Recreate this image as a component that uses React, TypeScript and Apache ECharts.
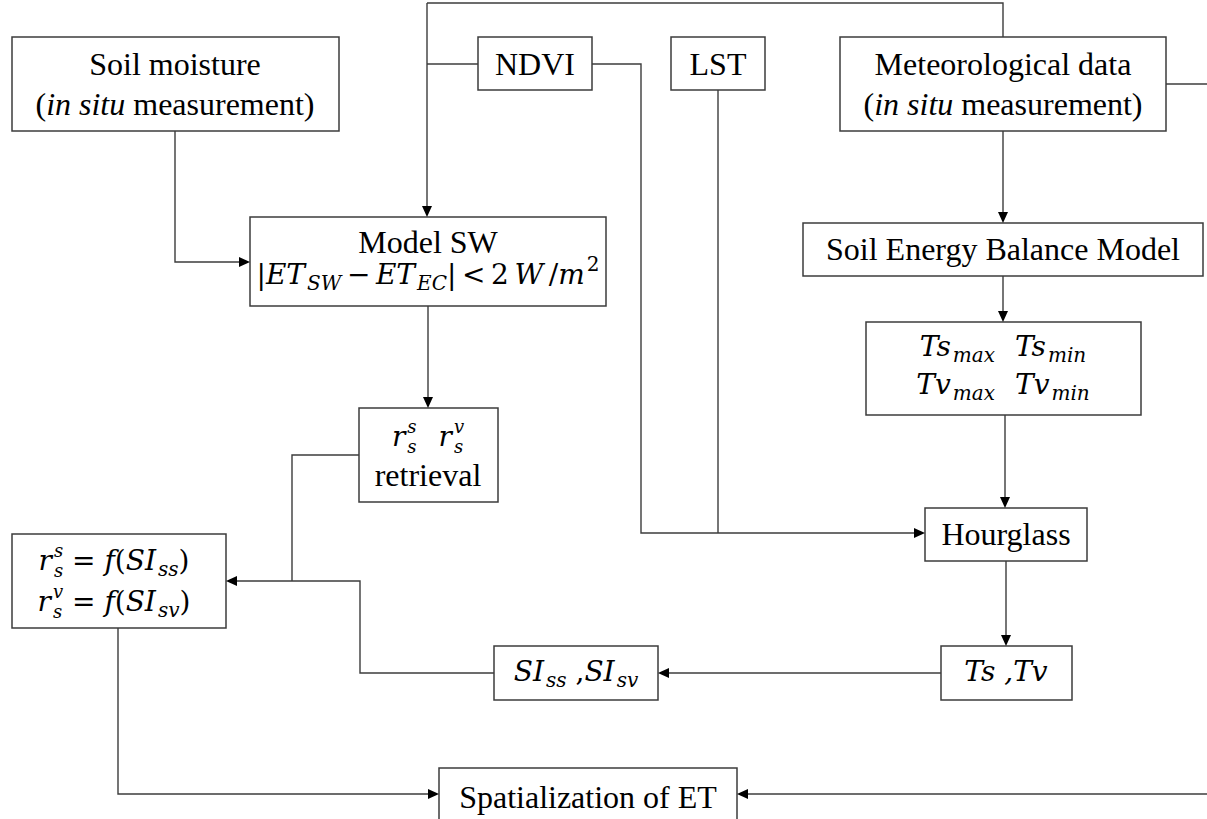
import React, { useEffect, useRef } from "react";
import * as echarts from "echarts";

const W = 1207;
const H = 819;

// ---- texts (data) ----
type Seg = { t: string; f?: "t" | "m"; it?: boolean; sub?: string; sup?: string; gap?: number };

const soilLines: Seg[][] = [
  [{ t: "Soil moisture" }],
  [{ t: "(" }, { t: "in situ", it: true }, { t: " measurement)" }],
];
const metLines: Seg[][] = [
  [{ t: "Meteorological data" }],
  [{ t: "(" }, { t: "in situ", it: true }, { t: " measurement)" }],
];
const ndviLines: Seg[][] = [[{ t: "NDVI" }]];
const lstLines: Seg[][] = [[{ t: "LST" }]];
const modelLines: Seg[][] = [
  [{ t: "Model SW" }],
  [
    { t: "|", f: "m" },
    { t: "ET", f: "m", it: true, sub: "SW" },
    { t: "\u2009−\u2009", f: "m" },
    { t: "ET", f: "m", it: true, sub: "EC" },
    { t: "|\u2009<\u20092\u2009", f: "m" },
    { t: "W", f: "m", it: true },
    { t: "\u2009/", f: "m" },
    { t: "m", f: "m", it: true, sup: "2" },
  ],
];
const sebmLines: Seg[][] = [[{ t: "Soil Energy Balance Model" }]];
const tsLimLines: Seg[][] = [
  [{ t: "Ts", f: "m", it: true, sub: "max" }, { t: "", gap: 20 }, { t: "Ts", f: "m", it: true, sub: "min" }],
  [{ t: "Tv", f: "m", it: true, sub: "max" }, { t: "", gap: 20 }, { t: "Tv", f: "m", it: true, sub: "min" }],
];
const retrievalLines: Seg[][] = [
  [{ t: "r", f: "m", it: true, sub: "s", sup: "s" }, { t: "", gap: 22 }, { t: "r", f: "m", it: true, sub: "s", sup: "v" }],
  [{ t: "retrieval" }],
];
const funcLines: Seg[][] = [
  [
    { t: "r", f: "m", it: true, sub: "s", sup: "s" },
    { t: " = ", f: "m" },
    { t: "f", f: "m", it: true },
    { t: "(", f: "m" },
    { t: "SI", f: "m", it: true, sub: "ss" },
    { t: ")", f: "m" },
  ],
  [
    { t: "r", f: "m", it: true, sub: "s", sup: "v" },
    { t: " = ", f: "m" },
    { t: "f", f: "m", it: true },
    { t: "(", f: "m" },
    { t: "SI", f: "m", it: true, sub: "sv" },
    { t: ")", f: "m" },
  ],
];
const hourLines: Seg[][] = [[{ t: "Hourglass" }]];
const tsTvLines: Seg[][] = [[{ t: "Ts ,Tv", f: "m", it: true }]];
const siLines: Seg[][] = [
  [{ t: "SI", f: "m", it: true, sub: "ss" }, { t: " ,", f: "m" }, { t: "SI", f: "m", it: true, sub: "sv" }],
];
const spatLines: Seg[][] = [[{ t: "Spatialization of ET" }]];

// ---- layout ----
const TEXT_FONT = "'Liberation Serif', 'Times New Roman', serif";
const MATH_FONT = "'DejaVu Serif', serif";
const TEXT_SIZE = 32;
const MATH_SIZE = 28;
const SUB_SIZE = 20;
const STACK_SIZE = 18;
const STROKE = "#3c3c3c";

type Node = { x: number; y: number; w: number; h: number; cx: number; ys: number[]; lines: Seg[][] };
const nodes: Node[] = [
  { x: 12, y: 37, w: 327, h: 94, cx: 175, ys: [64, 104], lines: soilLines },
  { x: 478, y: 37, w: 114, h: 53, cx: 535, ys: [64], lines: ndviLines },
  { x: 671, y: 37, w: 94, h: 53, cx: 718, ys: [64], lines: lstLines },
  { x: 840, y: 37, w: 326, h: 94, cx: 1003, ys: [64, 104], lines: metLines },
  { x: 250, y: 217, w: 356, h: 89, cx: 428, ys: [242, 274], lines: modelLines },
  { x: 803, y: 223, w: 400, h: 53, cx: 1003, ys: [249], lines: sebmLines },
  { x: 866, y: 322, w: 275, h: 93, cx: 1003, ys: [346, 384], lines: tsLimLines },
  { x: 359, y: 408, w: 139, h: 94, cx: 428, ys: [436, 475], lines: retrievalLines },
  { x: 12, y: 534, w: 214, h: 94, cx: 114, ys: [560, 601], lines: funcLines },
  { x: 925, y: 508, w: 162, h: 53, cx: 1006, ys: [534], lines: hourLines },
  { x: 941, y: 646, w: 131, h: 54, cx: 1006, ys: [671], lines: tsTvLines },
  { x: 494, y: 646, w: 164, h: 54, cx: 576, ys: [671], lines: siLines },
  { x: 439, y: 768, w: 298, h: 70, cx: 588, ys: [797], lines: spatLines },
];

type Conn = { pts: number[][]; arrow?: boolean };
const connectors: Conn[] = [
  { pts: [[427, 3], [1003, 3], [1003, 37]] },
  { pts: [[427, 3], [427, 217]], arrow: true },
  { pts: [[427, 64], [478, 64]] },
  { pts: [[592, 64], [641, 64], [641, 533], [925, 533]], arrow: true },
  { pts: [[718, 90], [718, 533]] },
  { pts: [[1166, 84], [1207, 84]] },
  { pts: [[1003, 131], [1003, 223]], arrow: true },
  { pts: [[1003, 276], [1003, 322]], arrow: true },
  { pts: [[1005, 415], [1005, 508]], arrow: true },
  { pts: [[1006, 561], [1006, 646]], arrow: true },
  { pts: [[941, 673], [658, 673]], arrow: true },
  { pts: [[494, 673], [360, 673], [360, 581], [226, 581]], arrow: true },
  { pts: [[359, 455], [292, 455], [292, 581]] },
  { pts: [[175, 131], [175, 262], [250, 262]], arrow: true },
  { pts: [[428, 306], [428, 408]], arrow: true },
  { pts: [[118, 628], [118, 794], [439, 794]], arrow: true },
  { pts: [[1207, 794], [737, 794]], arrow: true },
];

let ctx: CanvasRenderingContext2D | null = null;
function measure(text: string, size: number, family: string, italic: boolean) {
  if (!ctx) ctx = document.createElement("canvas").getContext("2d");
  if (!ctx) return text.length * size * 0.5;
  ctx.font = `${italic ? "italic " : ""}${size}px ${family}`;
  return ctx.measureText(text).width;
}

function subSize(s: Seg) {
  return s.sub && s.sup ? STACK_SIZE : SUB_SIZE;
}

function segWidth(s: Seg) {
  if (s.gap) return s.gap;
  const math = s.f === "m";
  const size = math ? MATH_SIZE : TEXT_SIZE;
  const fam = math ? MATH_FONT : TEXT_FONT;
  const w = measure(s.t, size, fam, !!s.it);
  const ss = subSize(s);
  const ws = s.sub ? measure(s.sub, ss, MATH_FONT, true) : 0;
  const wp = s.sup ? measure(s.sup, ss, MATH_FONT, s.sup !== "2") : 0;
  return w + Math.max(ws, wp) + (s.sub || s.sup ? 2 : 0);
}

function txt(x: number, y: number, text: string, size: number, fam: string, italic: boolean) {
  return {
    type: "text",
    x,
    y,
    silent: true,
    style: {
      text,
      fontSize: size,
      fontFamily: fam,
      fontStyle: italic ? "italic" : "normal",
      fill: "#000",
      align: "left",
      verticalAlign: "middle",
    },
  };
}

function lineEls(cx: number, y: number, segs: Seg[]) {
  const total = segs.reduce((a, s) => a + segWidth(s), 0);
  let x = cx - total / 2;
  const out: any[] = [];
  for (const s of segs) {
    if (s.gap) {
      x += s.gap;
      continue;
    }
    const math = s.f === "m";
    const size = math ? MATH_SIZE : TEXT_SIZE;
    const fam = math ? MATH_FONT : TEXT_FONT;
    if (s.t) out.push(txt(x, y, s.t, size, fam, !!s.it));
    const w = measure(s.t, size, fam, !!s.it);
    const ss = subSize(s);
    if (s.sub) out.push(txt(x + w + 2, y + (s.sup ? 10 : 9), s.sub, ss, MATH_FONT, true));
    if (s.sup) out.push(txt(x + w + 2, y - 10, s.sup, ss, MATH_FONT, s.sup !== "2"));
    x += segWidth(s);
  }
  return out;
}

function arrowHead(p0: number[], p1: number[]) {
  const dx = p1[0] - p0[0];
  const dy = p1[1] - p0[1];
  const len = Math.hypot(dx, dy) || 1;
  const ux = dx / len, uy = dy / len;
  const L = 11, hw = 5;
  const bx = p1[0] - ux * L, by = p1[1] - uy * L;
  return {
    type: "polygon",
    silent: true,
    shape: { points: [[p1[0], p1[1]], [bx - uy * hw, by + ux * hw], [bx + uy * hw, by - ux * hw]] },
    style: { fill: "#000" },
    z: 3,
  };
}

export default function App() {
  const ref = useRef<HTMLDivElement>(null);
  useEffect(() => {
    if (!ref.current) return;
    const chart = echarts.init(ref.current, null, { renderer: "svg" });
    const els: any[] = [];
    for (const c of connectors) {
      const pts = c.pts.slice();
      const last = pts[pts.length - 1];
      const prev = pts[pts.length - 2];
      if (c.arrow) {
        const dx = last[0] - prev[0], dy = last[1] - prev[1];
        const len = Math.hypot(dx, dy) || 1;
        pts[pts.length - 1] = [last[0] - (dx / len) * 8, last[1] - (dy / len) * 8];
      }
      els.push({
        type: "polyline",
        silent: true,
        shape: { points: pts },
        style: { stroke: STROKE, lineWidth: 1.4, fill: null },
        z: 1,
      });
      if (c.arrow) els.push(arrowHead(prev, last));
    }
    for (const n of nodes) {
      els.push({
        type: "rect",
        silent: true,
        shape: { x: n.x, y: n.y, width: n.w, height: n.h },
        style: { fill: "#fff", stroke: STROKE, lineWidth: 1.5 },
        z: 2,
      });
      n.lines.forEach((segs, i) => {
        for (const e of lineEls(n.cx, n.ys[i], segs)) {
          e.z = 4;
          els.push(e);
        }
      });
    }
    chart.setOption({
      animation: false,
      backgroundColor: "#fff",
      graphic: { elements: els },
    });
    return () => chart.dispose();
  }, []);
  return (
    <div
      ref={ref}
      style={{ position: "fixed", left: 0, top: 0, width: W, height: H, background: "#fff" }}
    />
  );
}
